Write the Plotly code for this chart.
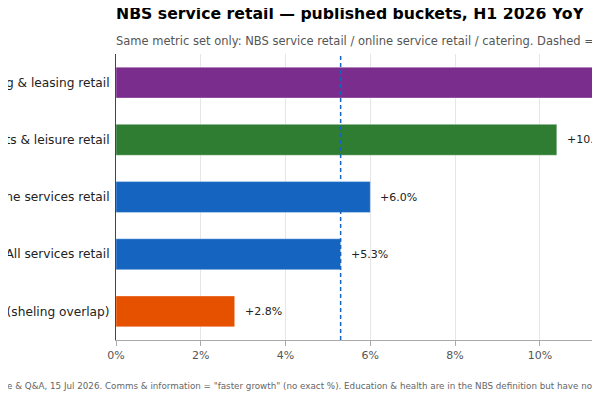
import plotly.graph_objects as go

categories = [
    "Renting & leasing retail",
    "Culture, sports & leisure retail",
    "Online services retail",
    "All services retail",
    "Catering revenue (sheling overlap)",
]
yoy_pct = [11.3, 10.4, 6.0, 5.3, 2.8]
bar_colors = ["#7B2D8E", "#2E7D32", "#1565C0", "#1565C0", "#E65100"]
benchmark = 5.3
x_ticks = [0, 2, 4, 6, 8, 10, 12]
x_tick_labels = ["0%", "2%", "4%", "6%", "8%", "10%", "12%"]

title0 = "NBS service retail — published buckets, H1 2026 YoY"
subtitle = ("Same metric set only: NBS service retail / online service retail / catering. "
            "Dashed = all services retail (+5.3%).")
footnote = ("Source: NBS press release & Q&A, 15 Jul 2026. Comms & information = \"faster growth\" "
            "(no exact %). Education & health are in the NBS definition but have no published H1 figure.")

fig = go.Figure()
fig.add_trace(go.Bar(
    x=yoy_pct,
    y=categories,
    orientation="h",
    marker=dict(color=bar_colors, line=dict(color="rgba(255,255,255,0.35)", width=1)),
    width=0.54,
    hoverinfo="skip",
))

# value labels just right of each bar
for cat, v in zip(categories, yoy_pct):
    fig.add_annotation(x=v, y=cat, text=f"+{v:.1f}%", showarrow=False,
                       xanchor="left", xshift=8,
                       font=dict(size=11, color="#222"))

fig.add_vline(x=benchmark, line=dict(color="#1565C0", width=1.5, dash="4px,3px"))

fig.add_annotation(x=0, y=-0.161, xref="paper", yref="paper", text=footnote,
                   showarrow=False, xanchor="left", yanchor="middle", xshift=-220,
                   font=dict(size=8.74, color="#666"))
fig.add_annotation(x=0, y=1, xref="paper", yref="paper", text=subtitle,
                   showarrow=False, xanchor="left", yanchor="bottom", yshift=4, xshift=-2,
                   font=dict(size=11.5, color="#555"))

fig.update_layout(
    width=760, height=400,
    font=dict(family="DejaVu Sans", color="#222"),
    title=dict(text=f"<b>{title0}</b>", x=0, xref="paper", xanchor="left",
               y=1.0, yref="container", yanchor="top", font=dict(size=15.7, color="black")),
    margin=dict(l=108, r=101, t=46, b=68),
    plot_bgcolor="white", paper_bgcolor="white",
    showlegend=False,
    xaxis=dict(range=[0, 13], tickvals=x_ticks, ticktext=x_tick_labels,
               showgrid=True, gridcolor="#e6e6e6", zeroline=False,
               showline=True, linecolor="#aaa", ticks="outside", ticklen=5, tickcolor="#aaa",
               tickfont=dict(size=11, color="#555")),
    yaxis=dict(autorange="reversed", automargin=False, showline=True, linecolor="#444",
               showgrid=False, ticks="", ticklabelstandoff=3,
               tickfont=dict(size=12.2, color="#222")),
)

fig.write_html("out.html")
